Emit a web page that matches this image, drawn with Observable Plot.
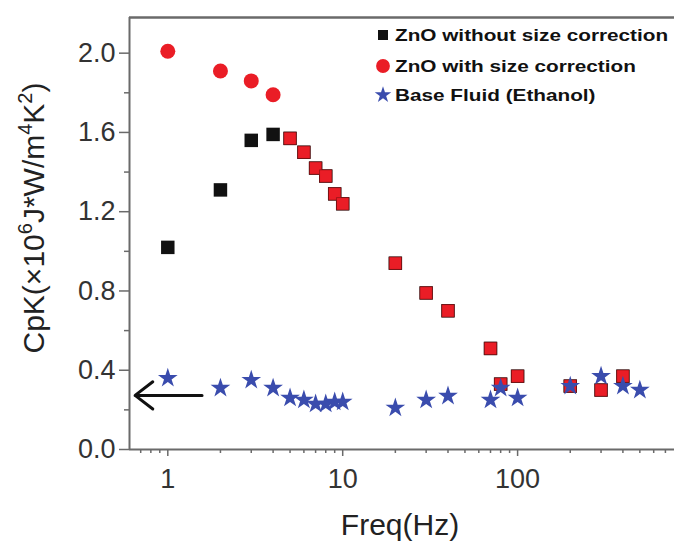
<!DOCTYPE html>
<html><head><meta charset="utf-8">
<script src="https://cdn.jsdelivr.net/npm/d3@7"></script>
<script src="https://cdn.jsdelivr.net/npm/@observablehq/plot@0.6"></script>
<style>
body{margin:0;background:#fff;}
#chart{width:674px;height:547px;}
</style></head><body><div id="chart"></div>
<script>
// ---- data ----
const znoFreq = [1,2,3,4,5,6,7,8,9,10,20,30,40,70,80,100,200,300,400];
const znoWithout = [1.02,1.31,1.56,1.59,1.57,1.50,1.42,1.38,1.29,1.24,0.94,0.79,0.70,0.51,0.33,0.37,0.32,0.30,0.37];
const znoWith    = [2.01,1.91,1.86,1.79,1.57,1.50,1.42,1.38,1.29,1.24,0.94,0.79,0.70,0.51,0.33,0.37,0.32,0.30,0.37];
const baseFreq  = [1,2,3,4,5,6,7,8,9,10,20,30,40,70,80,100,200,300,400,500];
const baseFluid = [0.36,0.31,0.35,0.31,0.26,0.25,0.23,0.23,0.24,0.24,0.21,0.25,0.27,0.25,0.31,0.26,0.32,0.37,0.32,0.30];
const seriesNames = ["ZnO without size correction","ZnO with size correction","Base Fluid (Ethanol)"];
const xMajorTicks = [1,10,100];
const xMinorTicks = [0.7,0.8,0.9,2,3,4,5,6,7,8,9,20,30,40,50,60,70,80,90,200,300,400,500,600,700];
const yMajorTicks = [0,0.4,0.8,1.2,1.6,2.0];
const yMinorTicks = [0.2,0.6,1.0,1.4,1.8];
const xDomain = [0.604, 789];
const yDomain = [0, 2.18];
const arrowLevel = 0.273;          // base-fluid level marked by the arrow
const arrowFromTo = [1.57, 0.65];  // arrow tail -> head (Hz)
const xLabel = "Freq(Hz)";

// ---- tables ----
const zno = znoFreq.map((f,i)=>({f, without: znoWithout[i], withC: znoWith[i], same: znoWith[i]===znoWithout[i]}));
const base = baseFreq.map((f,i)=>({f, v: baseFluid[i]}));

const RED = "#ea1d26", BLUE = "#3a4cad", BLACK = "#111", AXIS = "#6a6a6a";
const FONT = "Liberation Sans, Arial, Helvetica, sans-serif";

const chart = Plot.plot({
  width: 674, height: 547,
  marginLeft: 129, marginRight: 0, marginTop: 17, marginBottom: 98,
  style: {background: "#fff", fontFamily: FONT, color: "#222"},
  x: {type: "log", domain: xDomain, axis: null},
  y: {domain: yDomain, axis: null},
  marks: [
    Plot.axisX(xMinorTicks, {tickSize: 4, tickFormat: () => "", stroke: AXIS, strokeWidth: 1.5, label: null}),
    Plot.axisX(xMajorTicks, {tickSize: 7, tickPadding: 12, fontSize: 27, tickFormat: d => String(d), stroke: AXIS, strokeWidth: 1.5, label: null, fill: "#333"}),
    Plot.axisY(yMinorTicks, {tickSize: 5, tickFormat: () => "", stroke: AXIS, strokeWidth: 1.5, label: null}),
    Plot.axisY(yMajorTicks, {tickSize: 10, tickPadding: 4, fontSize: 27, tickFormat: d => d.toFixed(1), stroke: AXIS, strokeWidth: 1.5, label: null, fill: "#333"}),
    Plot.ruleY([yDomain[1]], {stroke: AXIS, strokeWidth: 2.5}),
    Plot.ruleX([xDomain[0]], {stroke: AXIS, strokeWidth: 2}),
    Plot.ruleY([0], {stroke: AXIS, strokeWidth: 2}),
    // black squares (without correction)
    Plot.dot(zno, {x: "f", y: "without", symbol: "square", r: 7.6, fill: BLACK, stroke: "none"}),
    // red circles (with correction) where distinct
    Plot.dot(zno.filter(d => !d.same), {x: "f", y: "withC", symbol: "circle", r: 7.5, fill: RED, stroke: "none"}),
    // red where coincident with the black squares
    Plot.dot(zno.filter(d => d.same), {x: "f", y: "withC", symbol: "square", r: 7.0, fill: RED, stroke: "#7a1010", strokeWidth: 0.6}),
    // base fluid stars
    Plot.dot(base, {x: "f", y: "v", symbol: "star", r: 6.2, fill: BLUE, stroke: "none"}),
    // arrow
    Plot.arrow([arrowLevel], {x1: () => arrowFromTo[0], x2: () => arrowFromTo[1], y1: d => d, y2: d => d,
      stroke: BLACK, strokeWidth: 3, headLength: 14, headAngle: 75})
  ]
});
document.getElementById("chart").appendChild(chart);

// ---- labels and legend ----
const svg = d3.select(chart);
// y label with superscripts
const yl = svg.append("text")
  .attr("transform", "translate(44,218) rotate(-90)")
  .attr("text-anchor", "middle").attr("font-family", FONT).attr("font-size", 30).attr("fill", "#222");
const parts = [["CpK(×10",0],["6",1],["J*W/m",0],["4",1],["K",0],["2",1],[")",0]];
let up = false;
parts.forEach(([t, sup]) => {
  const ts = yl.append("tspan").text(t);
  if (sup) { ts.attr("font-size", 20).attr("dy", -12); up = true; }
  else if (up) { ts.attr("dy", 12); up = false; }
});
svg.append("text").attr("x", 400).attr("y", 535).attr("text-anchor", "middle")
  .attr("font-family", FONT).attr("font-size", 30).attr("fill", "#222").text(xLabel);

const legend = svg.append("g").attr("font-family", FONT).attr("font-weight", "bold").attr("font-size", 17)
  .attr("fill", "#111").attr("text-anchor", "start");
const legendRows = [
  {name: seriesNames[0], sym: d3.symbolSquare, size: 100, fill: BLACK, y: 35},
  {name: seriesNames[1], sym: d3.symbolCircle, size: 150, fill: RED, y: 66},
  {name: seriesNames[2], sym: d3.symbolStar, size: 85, fill: BLUE, y: 95}
];
legendRows.forEach(r => {
  legend.append("path").attr("d", d3.symbol(r.sym, r.size)()).attr("transform", `translate(383,${r.y})`).attr("fill", r.fill);
  const t = legend.append("text").attr("x", 395).attr("y", r.y).attr("dy", "0.36em").attr("text-anchor", "start").text(r.name);
  const len = t.node().getComputedTextLength();
  t.attr("textLength", len * 1.22).attr("lengthAdjust", "spacingAndGlyphs");
});
</script>
</body></html>
